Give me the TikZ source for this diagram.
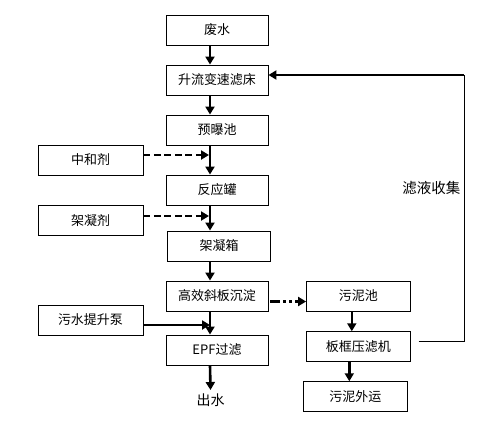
\documentclass[tikz,border=0pt]{standalone}
\usepackage{fontspec}
\setmainfont{Noto Sans CJK SC}
\usetikzlibrary{arrows.meta}

\begin{document}
\begin{tikzpicture}[x=1pt, y=-1pt,
  box/.style={draw, line width=0.9pt, minimum width=102pt, minimum height=30pt,
    inner sep=0pt, font=\fontsize{13}{15}\selectfont},
  flow/.style={line width=2.6pt, -{Triangle[width=9pt,length=8pt]}},
  dose/.style={flow, dash pattern=on 7pt off 3.5pt},
  sludge/.style={flow, dash pattern=on 10pt off 3pt on 3pt off 3pt on 3pt off 3pt}]
\useasboundingbox (0,0) rectangle (483,429);
% main line
\node[box] (feishui) at (217,30) {废水};
\node[box] (lvchuang) at (217,80) {升流变速滤床};
\node[box] (yubao) at (217,130) {预曝池};
\node[box] (fanying) at (217,190) {反应罐};
\node[box, minimum width=103.5pt] (jxiang) at (219,246) {架凝箱};
\node[box] (chendian) at (217,296) {高效斜板沉淀};
\node[box] (epf) at (217,350) {EPF过滤};
\node[font=\fontsize{14}{16}\selectfont] (chushui) at (210.5,400) {出水};
% dosing
\node[box, minimum width=105pt] (zhonghe) at (90.5,160) {中和剂};
\node[box, minimum width=105pt] (jningji) at (90.5,220.5) {架凝剂};
\node[box, minimum width=105pt] (tisheng) at (90.5,320) {污水提升泵};
% sludge side
\node[box, minimum width=103.5pt] (wunichi) at (358.3,296) {污泥池};
\node[box, minimum width=103.5pt] (yalvji) at (358.3,346.7) {板框压滤机};
\node[box, minimum width=104pt] (waiyun) at (355.3,396.7) {污泥外运};
\node[font=\fontsize{14.5}{16}\selectfont, anchor=east] (lvye) at (464,188) {滤液收集};
\coordinate (cr) at (464,341);
\coordinate (ct) at (464,75);

\draw[flow] ([xshift=-7pt]feishui.south) -- ([xshift=-7pt]lvchuang.north);
\draw[flow] ([xshift=-7pt]lvchuang.south) -- ([xshift=-7pt]yubao.north);
\draw[flow] ([xshift=-7pt]yubao.south) -- ([xshift=-7pt]fanying.north);
\draw[flow] ([xshift=-7pt]fanying.south) -- ([xshift=-9pt]jxiang.north);
\draw[flow] ([xshift=-9pt]jxiang.south) -- ([xshift=-7pt]chendian.north);
\draw[flow] ([xshift=-7pt]chendian.south) -- ([xshift=-7pt]epf.north);
\draw[flow] ([xshift=-7pt]epf.south) -- (chushui.north);
\draw[dose] ([yshift=5pt]zhonghe.east) -- ([xshift=-8pt,yshift=5pt]zhonghe.east -| fanying.north);
\draw[dose] ([yshift=4.5pt]jningji.east) -- ([xshift=-10pt,yshift=4.5pt]jningji.east -| jxiang.north);
\draw[flow] ([yshift=-5pt]tisheng.east) -- ([xshift=-7pt,yshift=-5pt]tisheng.east -| epf.north);
\draw[sludge] ([xshift=2pt,yshift=-5.5pt]chendian.east) -- ([yshift=-5.5pt]wunichi.west);
\draw[flow] ([xshift=-6.5pt]wunichi.south) -- ([xshift=-6.5pt]yalvji.north);
\draw[flow] ([xshift=-9pt]yalvji.south) -- ([xshift=-6pt]waiyun.north);
% filtrate return
\draw[line width=1pt] ([xshift=8pt]yalvji.east |- cr) -- (cr) -- (ct);
\draw[flow] (ct) -- (ct -| lvchuang.east);
\end{tikzpicture}
\end{document}
